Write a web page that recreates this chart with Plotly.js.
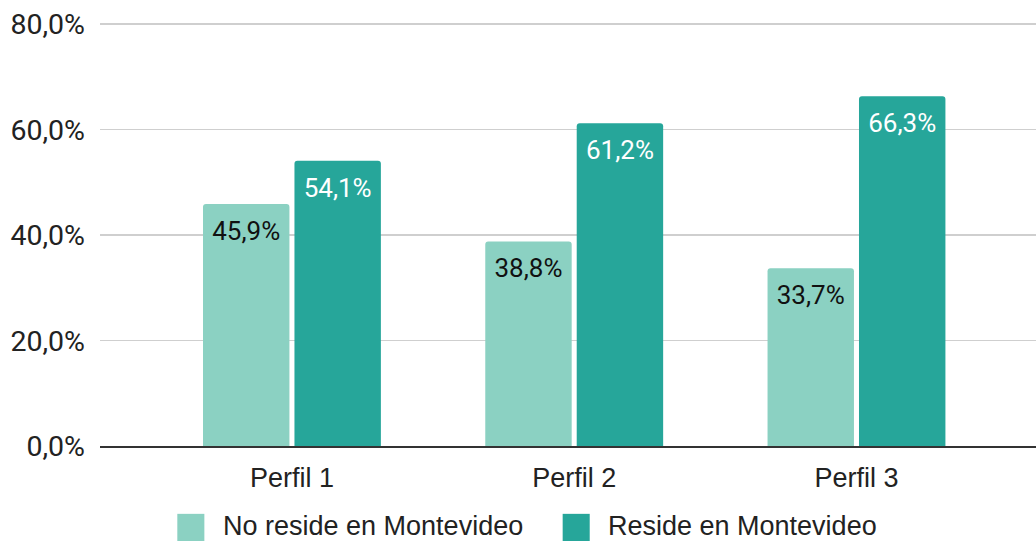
<!DOCTYPE html>
<html><head><meta charset="utf-8">
<script src="https://cdn.plot.ly/plotly-3.0.1.min.js"></script>
<style>html,body{margin:0;padding:0;background:#fff}#chart{width:1036px;height:541px}</style>
</head><body><div id="chart"></div>
<script>
const categories = ["Perfil 1", "Perfil 2", "Perfil 3"];
const seriesNames = ["No reside en Montevideo", "Reside en Montevideo"];
const noReside = [45.9, 38.8, 33.7];
const reside = [54.1, 61.2, 66.3];
const yTicks = [0, 20, 40, 60, 80];
const colors = ["#8bd1c2", "#26a69a"];

const FONT = "Roboto, 'Noto Sans', sans-serif";
const FONT2 = "'Liberation Sans', Arial, sans-serif";
const yTickText = yTicks.map(v => v.toFixed(1).replace(".", ",") + "%");

const traces = [
  {type: "bar", name: seriesNames[0], x: categories, y: noReside,
   marker: {color: colors[0], cornerradius: 3},
   texttemplate: "%{y:.1f}%", textposition: "inside", insidetextanchor: "end",
   textfont: {family: FONT, size: 26, color: "#111"}, hoverinfo: "skip"},
  {type: "bar", name: seriesNames[1], x: categories, y: reside,
   marker: {color: colors[1], cornerradius: 3},
   texttemplate: "%{y:.1f}%", textposition: "inside", insidetextanchor: "end",
   textfont: {family: FONT, size: 26, color: "#ffffff"}, hoverinfo: "skip"}
];

// legend swatches and labels (drawn as shapes/annotations to match the size)
const legX = [0.0826, 0.4943];
const legShapes = seriesNames.map((n, i) => ({
  type: "rect", xref: "paper", yref: "paper",
  x0: legX[i], x1: legX[i] + 0.0289, y0: -0.235, y1: -0.160,
  fillcolor: colors[i], line: {width: 0}, layer: "above"
}));
const legAnn = seriesNames.map((n, i) => ({
  text: n, xref: "paper", yref: "paper", x: legX[i] + 0.0477, y: -0.188,
  xanchor: "left", yanchor: "middle", showarrow: false, borderpad: 0,
  font: {family: FONT2, size: 27, color: "#222"}
}));

const layout = {
  width: 1036, height: 541,
  margin: {l: 100, r: 0, t: 22, b: 95, pad: 0, autoexpand: false},
  paper_bgcolor: "#fff", plot_bgcolor: "#fff",
  separators: ",.",
  font: {family: FONT, size: 26, color: "#222"},
  barmode: "group", bargap: 0.352, bargroupgap: 0.055,
  showlegend: false,
  xaxis: {type: "category", range: [-0.68, 2.636], showgrid: false,
          showline: true, linecolor: "#333", linewidth: 2, ticks: "",
          ticklabelstandoff: 7, tickfont: {family: FONT2, size: 27, color: "#222"}},
  yaxis: {range: [0, 80.4], tickmode: "array", tickvals: yTicks, ticktext: yTickText,
          showgrid: true, gridcolor: "#cfcfcf", gridwidth: 1.5, zeroline: false,
          showline: false, ticks: "", ticklabelstandoff: 14,
          tickfont: {family: FONT, size: 28.5, color: "#222"}},
  shapes: legShapes,
  annotations: legAnn
};
Plotly.newPlot("chart", traces, layout, {staticPlot: true}).then(function(gd){
  gd.querySelectorAll("text.bartext").forEach(function(t){
    const tr = t.getAttribute("transform") || "";
    t.setAttribute("transform", "translate(0,9) " + tr);
  });
});
</script></body></html>
